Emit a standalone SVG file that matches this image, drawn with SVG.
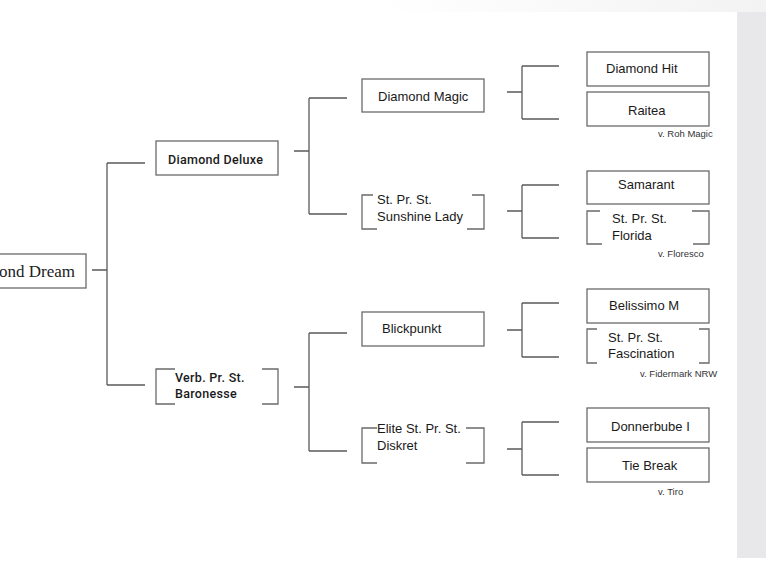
<svg xmlns="http://www.w3.org/2000/svg" width="766" height="574" viewBox="0 0 766 574">
<defs>
<linearGradient id="topfade" x1="0" y1="0" x2="1" y2="0">
<stop offset="0" stop-color="#ffffff"/>
<stop offset="1" stop-color="#f3f3f3"/>
</linearGradient>
<style>
.ln{stroke:#5a5a5a;stroke-width:1.3;fill:none}
.bx{stroke:#6a6a6a;stroke-width:1.3;fill:#ffffff}
.br{stroke:#6a6a6a;stroke-width:1.3;fill:none}
.t{font-family:"Liberation Sans",Arial,sans-serif;font-size:13px;fill:#1a1a1a}
.s{font-family:"Liberation Sans",Arial,sans-serif;font-size:9.5px;fill:#333333}
.d{font-family:Roboto,"DejaVu Sans",sans-serif;font-size:12.5px;font-weight:500;letter-spacing:0.3px;fill:#1a1a1a}
.r{font-family:"Liberation Serif","DejaVu Serif",serif;font-size:17px;fill:#222222}
</style>
</defs>
<rect x="0" y="0" width="766" height="574" fill="#ffffff"/>
<rect x="380" y="0" width="386" height="12" fill="url(#topfade)"/>
<rect x="737" y="12" width="29" height="546" fill="#e8e8ea"/>

<g id="connectors">
<path class="ln" d="M92 270H107M107 163V385M107 163H145M107 385H145"/>
<path class="ln" d="M294 151H309M309 98V214M309 98H347M309 214H347"/>
<path class="ln" d="M294 387H309M309 333V451M309 333H347M309 451H347"/>
<path class="ln" d="M507 92H522M522 66V119M522 66H559M522 119H559"/>
<path class="ln" d="M507 211H522M522 185V238M522 185H559M522 238H559"/>
<path class="ln" d="M507 330H522M522 303V357M522 303H559M522 357H559"/>
<path class="ln" d="M507 449H522M522 422V475M522 422H559M522 475H559"/>
</g>

<g id="n-diamond-dream">
<rect class="bx" x="-10" y="254" width="96" height="34"/>
<text class="r" x="75" y="277" text-anchor="end">Diamond Dream</text>
</g>

<g id="n-diamond-deluxe">
<rect class="bx" x="156" y="141" width="122" height="34"/>
<text class="d" x="168" y="164">Diamond Deluxe</text>
</g>

<g id="n-baronesse">
<path class="br" d="M175 369H156V404H175M262 369H278V404H262"/>
<text class="d" x="175" y="382">Verb. Pr. St.</text>
<text class="d" x="175" y="398">Baronesse</text>
</g>

<g id="n-diamond-magic">
<rect class="bx" x="362" y="79" width="122" height="33"/>
<text class="t" x="378" y="101">Diamond Magic</text>
</g>

<g id="n-sunshine-lady">
<path class="br" d="M373 195H362V229H377M472 195H484V229H467"/>
<text class="t" x="377" y="204">St. Pr. St.</text>
<text class="t" x="377" y="221">Sunshine Lady</text>
</g>

<g id="n-blickpunkt">
<rect class="bx" x="362" y="312" width="122" height="34"/>
<text class="t" x="382" y="333">Blickpunkt</text>
</g>

<g id="n-diskret">
<path class="br" d="M377 428H362V463H377M466 428H484V463H466"/>
<text class="t" x="377" y="433">Elite St. Pr. St.</text>
<text class="t" x="377" y="450">Diskret</text>
</g>

<g id="n-diamond-hit">
<rect class="bx" x="587" y="52" width="122" height="34"/>
<text class="t" x="606" y="73">Diamond Hit</text>
</g>

<g id="n-raitea">
<rect class="bx" x="587" y="92" width="122" height="34"/>
<text class="t" x="628" y="115">Raitea</text>
<text class="s" x="658" y="137">v. Roh Magic</text>
</g>

<g id="n-samarant">
<rect class="bx" x="587" y="171" width="122" height="33"/>
<text class="t" x="618" y="189">Samarant</text>
</g>

<g id="n-florida">
<path class="br" d="M600 211H587V244H602M692 211H709V244H693"/>
<text class="t" x="612" y="223">St. Pr. St.</text>
<text class="t" x="612" y="240">Florida</text>
<text class="s" x="658" y="257">v. Floresco</text>
</g>

<g id="n-belissimo">
<rect class="bx" x="587" y="289" width="122" height="34"/>
<text class="t" x="609" y="310">Belissimo M</text>
</g>

<g id="n-fascination">
<path class="br" d="M597 329H587V363H597M699 329H709V363H699"/>
<text class="t" x="608" y="342">St. Pr. St.</text>
<text class="t" x="608" y="358">Fascination</text>
<text class="s" x="640" y="377">v. Fidermark NRW</text>
</g>

<g id="n-donnerbube">
<rect class="bx" x="587" y="408" width="122" height="34"/>
<text class="t" x="611" y="431">Donnerbube I</text>
</g>

<g id="n-tie-break">
<rect class="bx" x="587" y="448" width="122" height="34"/>
<text class="t" x="622" y="470">Tie Break</text>
<text class="s" x="658" y="495">v. Tiro</text>
</g>
</svg>
